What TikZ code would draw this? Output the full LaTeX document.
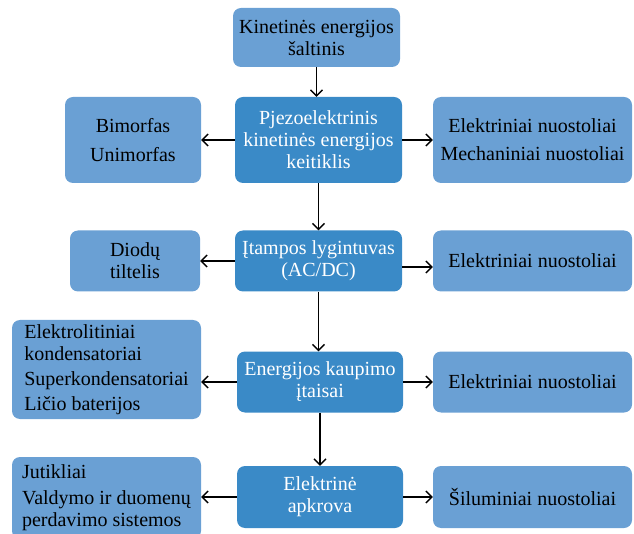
\documentclass[tikz,border=0pt]{standalone}
\usepackage{fontspec}
\setmainfont{Liberation Serif}
\usetikzlibrary{arrows.meta}
\definecolor{darkbox}{RGB}{58,138,199}
\definecolor{lightbox}{RGB}{106,160,212}
\tikzset{
  mainbox/.style={fill=darkbox,rounded corners=8pt,text=white,align=center,
    minimum width=167pt,inner sep=0pt},
  sidebox/.style={fill=lightbox,rounded corners=8pt,text=black,align=center,
    inner sep=0pt},
  flow/.style={-{Straight Barb[length=6pt,width=12pt]},line width=1.3pt}
}
\begin{document}
\begin{tikzpicture}[x=1pt,y=-1pt,font=\fontsize{20}{22}\selectfont]
\useasboundingbox (0,0) rectangle (634,534);
% middle column
\node[sidebox,minimum width=167pt,minimum height=59pt](src) at (316.5,37.5){Kinetinės energijos\\šaltinis};
\node[mainbox,minimum height=86pt](conv) at (318.5,140){Pjezoelektrinis\\kinetinės energijos\\keitiklis};
\node[mainbox,minimum height=61pt](rect) at (318.5,261){Įtampos lygintuvas\\(AC/DC)};
\node[mainbox,minimum width=166pt,minimum height=61pt](stor) at (320,382){Energijos kaupimo\\įtaisai};
\node[mainbox,minimum width=166pt,minimum height=62pt](load) at (320,497){Elektrinė\\apkrova};
% left column
\node[sidebox,minimum width=136pt,minimum height=86pt](piezo) at (133,140){Bimorfas\\[7pt]Unimorfas};
\node[sidebox,minimum width=130pt,minimum height=61pt](diod) at (135,261){Diodų\\tiltelis};
\node[sidebox,align=left,minimum width=189pt,minimum height=99pt](caps) at (106.5,369.5){Elektrolitiniai\\kondensatoriai\\[3pt]Superkondensatoriai\\[3pt]Ličio baterijos};
\node[sidebox,align=left,minimum width=189pt,minimum height=82pt](use) at (106.5,498){Jutikliai\\[4pt]Valdymo ir duomenų\\perdavimo sistemos};
% right column
\node[sidebox,minimum width=199pt,minimum height=86pt](loss1) at (532.5,140){Elektriniai nuostoliai\\[6pt]Mechaniniai nuostoliai};
\node[sidebox,minimum width=199pt,minimum height=61pt](loss2) at (532.5,261){Elektriniai nuostoliai};
\node[sidebox,minimum width=199pt,minimum height=61pt](loss3) at (532.5,382){Elektriniai nuostoliai};
\node[sidebox,minimum width=199pt,minimum height=62pt](loss4) at (532.5,497){Šiluminiai nuostoliai};
% arrows
\draw[flow](src.south)--(src.south|-conv.north);
\draw[flow](conv)--(rect);
\draw[flow](rect.south)--(rect.south|-stor.north);
\draw[flow](stor)--(load);
\draw[flow](conv)--(piezo);
\draw[flow](conv)--(loss1);
\draw[flow](rect)--(diod);
\draw[flow]([yshift=-6pt]rect.east)--([yshift=-6pt]loss2.west);
\draw[flow](stor.west)--(stor.west-|caps.east);
\draw[flow](stor)--(loss3);
\draw[flow](load.west)--(load.west-|use.east);
\draw[flow](load)--(loss4);
\end{tikzpicture}
\end{document}
